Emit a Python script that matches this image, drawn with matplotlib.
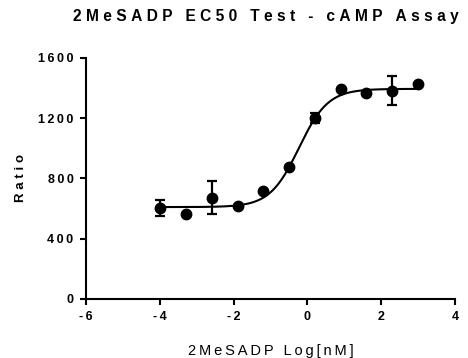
import numpy as np
import matplotlib.pyplot as plt

# dose (log nM) and response data
log_dose = [-3.99, -3.29, -2.59, -1.89, -1.19, -0.49, 0.20, 0.90, 1.60, 2.30, 3.00]
ratio = [606, 562, 673, 620, 719, 874, 1200, 1392, 1366, 1383, 1426]
ratio_err = [52, 0, 107, 0, 0, 0, 35, 0, 0, 97, 0]

# 4PL fit parameters (bottom, top, logEC50, hill)
fit_bottom = 610
fit_top = 1395
fit_logec50 = -0.23
fit_hill = 1.1

x_ticks = [-6, -4, -2, 0, 2, 4]
y_ticks = [0, 400, 800, 1200, 1600]


def spaced(s, sep="\u2009"):
    return sep.join(s)


plt.rcParams['font.family'] = ['Liberation Sans', 'DejaVu Sans']

fig = plt.figure(figsize=(4.68, 3.58), dpi=100)
ax = fig.add_axes([0.184, 0.165, 0.788, 0.673])

xs = np.linspace(min(log_dose), max(log_dose), 300)
curve = fit_bottom + (fit_top - fit_bottom) / (1 + 10 ** (fit_hill * (fit_logec50 - xs)))
ax.plot(xs, curve, color="black", lw=1.5, zorder=2)

ax.errorbar(log_dose, ratio, yerr=ratio_err, fmt="o", color="black", ms=7.5,
            elinewidth=1.6, capsize=3.6, capthick=1.6, zorder=3)

ax.set_xlim(-6, 4)
ax.set_ylim(0, 1600)
ax.set_xticks(x_ticks)
ax.set_yticks(y_ticks)
ax.set_xticklabels([spaced(str(t)) for t in x_ticks], fontsize=9, fontweight="bold")
ax.set_yticklabels([spaced(str(t)) for t in y_ticks], fontsize=9, fontweight="bold")

for side in ["top", "right"]:
    ax.spines[side].set_visible(False)
for side in ["left", "bottom"]:
    ax.spines[side].set_linewidth(1.5)
ax.tick_params(width=1.5, length=4, direction="out", pad=5)

fig.text(266 / 468, 1 - 17 / 358, spaced("2MeSADP EC50 Test - cAMP Assay", "\u2009\u200a"),
         fontsize=11.2, fontweight="bold", ha="center", va="center")
ax.set_xlabel(spaced("2MeSADP Log[nM]", "\u2009"), fontsize=10.5, labelpad=15)
ax.set_ylabel(spaced("Ratio", "\u2009\u200a"), fontsize=9.5, fontweight="bold", labelpad=8)

fig.savefig("out.png", dpi=100)
